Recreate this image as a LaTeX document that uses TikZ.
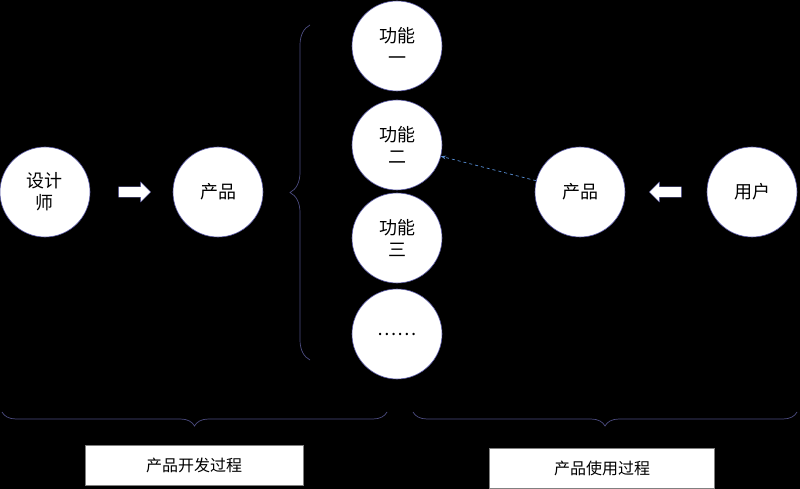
\documentclass[tikz,border=0pt]{standalone}
\usepackage{fontspec}
\newfontfamily\cjk{Noto Sans CJK SC}
\usetikzlibrary{decorations.pathreplacing,shapes.arrows,arrows.meta}
\begin{document}
\begin{tikzpicture}[x=1pt,y=-1pt,
  circ/.style={circle,fill=white,draw=blue!30!gray,line width=0.6pt,minimum size=90pt,inner sep=0pt,font=\cjk\fontsize{18}{22}\selectfont,align=center},
  brc/.style={draw=blue!25!gray!80!black,line width=0.7pt,decorate},
  lab/.style={draw=gray,fill=white,font=\cjk\fontsize{16}{19}\selectfont,minimum height=40pt},
  barrow/.style={single arrow,fill=white,draw=blue!30!gray,minimum height=32pt,minimum width=20pt,single arrow head extend=2pt,inner sep=2pt}]
\fill[black] (0,0) rectangle (800,489);
\useasboundingbox (0,0) rectangle (800,489);
\node[circ] (des) at (45,192) {设计\\师};
\node[circ] (p1) at (218,192) {产品};
\node[circ] (f1) at (397,46) {功能\\一};
\node[circ] (f2) at (397,145) {功能\\二};
\node[circ] (f3) at (397,238) {功能\\三};
\node[circ] (f4) at (397,334) {……};
\node[circ] (p2) at (580,192) {产品};
\node[circ] (usr) at (752,192) {用户};
\node[barrow] (a1) at (132,192) {};
\node[barrow,shape border rotate=180] (a2) at (668,192) {};
\draw[dashed,draw=cyan!50!blue!70,line width=0.7pt,-{Stealth[length=5pt]}] (p2) -- (f2);
\draw[brc,decoration={brace,amplitude=20pt}] (310,360) -- (310,25);
\draw[brc,decoration={brace,amplitude=14pt}] (387,412) -- (2,412);
\draw[brc,decoration={brace,amplitude=14pt}] (797,412) -- (413,412);
\node[lab,minimum width=218pt] (b1) at (194,465) {产品开发过程};
\node[lab,minimum width=225pt] (b2) at (602,468) {产品使用过程};
\end{tikzpicture}
\end{document}
